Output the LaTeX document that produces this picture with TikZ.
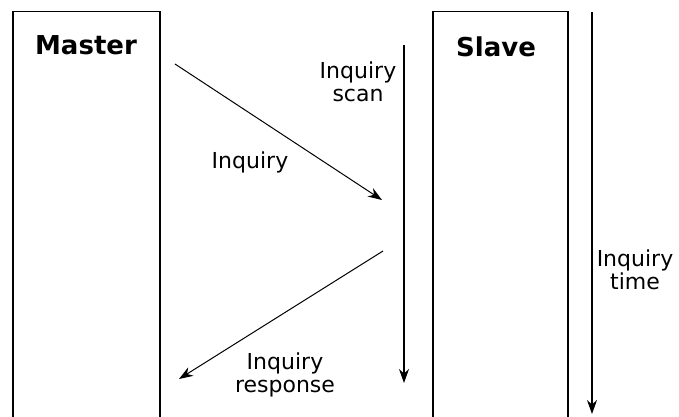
\documentclass[tikz,border=0pt]{standalone}
\usepackage{fontspec}
\setmainfont{DejaVu Sans}
\usetikzlibrary{arrows.meta,positioning}

\begin{document}
\begin{tikzpicture}[x=1pt, y=-1pt, >={Stealth[length=14pt,width=10pt]},
  font=\fontsize{22}{23}\selectfont]
\clip (0,0) rectangle (679,417);
% the two stations
\node[draw, line width=1.5pt, anchor=north west, inner sep=0, minimum width=147pt, minimum height=430pt] (master) at (12,11) {};
\node[draw, line width=1.5pt, anchor=north west, inner sep=0, minimum width=135pt, minimum height=430pt] (slave) at (432,11) {};
\node[font=\bfseries\fontsize{26}{28}\selectfont] (mtitle) at (86,45) {Master};
\node[font=\bfseries\fontsize{26}{28}\selectfont] (stitle) at (496,47) {Slave};
% time lines
\coordinate (scantop) at (404,45);
\coordinate (scanend) at (404,383);
\coordinate (timetop) at (592,12);
\coordinate (timeend) at (592,414);
\draw[->, line width=1.2pt] (scantop) -- (scanend);
\draw[->, line width=1.2pt] (timetop) -- (timeend);
% messages
\coordinate (inqstart) at (175,64);
\coordinate (inqend) at (382,200);
\coordinate (respstart) at (383,251);
\coordinate (respend) at (179,379);
\draw[->, line width=1pt] (inqstart) -- (inqend);
\draw[->, line width=1pt] (respstart) -- (respend);
% labels
\node[align=center] (scanlbl) at (358,82) {Inquiry\\scan};
\node (inqlbl) at (250,162) {Inquiry};
\node[align=center] (resplbl) at (285,375) {Inquiry\\response};
\node[align=center] (timelbl) at (635,270) {Inquiry\\time};
\end{tikzpicture}
\end{document}
